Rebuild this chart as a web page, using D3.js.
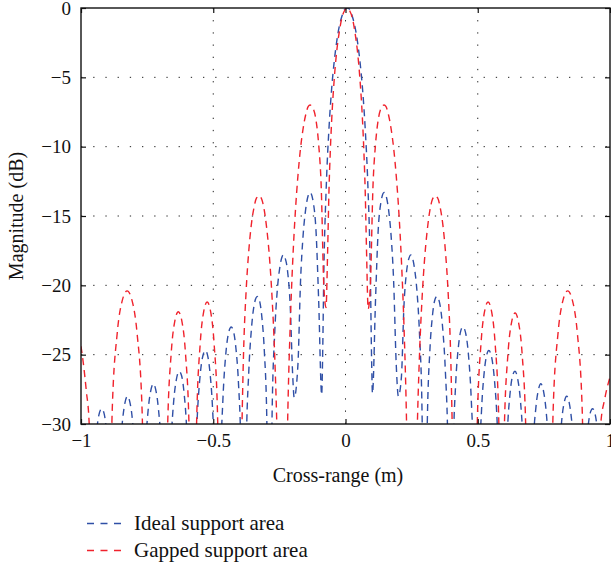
<!DOCTYPE html>
<html>
<head>
<meta charset="utf-8">
<script src="https://cdn.jsdelivr.net/npm/d3@7"></script>
<style>
  html, body { margin: 0; padding: 0; background: #fff; }
  svg { display: block; }
  text { font-family: "Liberation Serif", "Times New Roman", serif; fill: #111; }
</style>
</head>
<body>
<svg id="chart" width="611" height="566"></svg>
<script>
// ---------- data (cross-range in m, magnitude in dB) ----------
const idealX = [
  -1.0, -0.972, -0.9524, -0.9427, -0.9329, -0.9221, -0.9133, -0.9035, -0.8938, -0.8742,
  -0.8546, -0.8449, -0.8351, -0.8243, -0.8155, -0.8057, -0.7960, -0.7764,
  -0.7568, -0.7471, -0.7373, -0.7265, -0.7177, -0.7079, -0.6982, -0.6786,
  -0.6688, -0.6590, -0.6493, -0.6395, -0.6287, -0.6199, -0.6101, -0.6004, -0.5906, -0.5808,
  -0.5710, -0.5612, -0.5515, -0.5417, -0.5299, -0.5221, -0.5123, -0.5026, -0.4928, -0.4830,
  -0.4732, -0.4634, -0.4537, -0.4439, -0.4321, -0.4243, -0.4145, -0.4048, -0.3950, -0.3852,
  -0.3754, -0.3656, -0.3559, -0.3461, -0.3334, -0.3265, -0.3167, -0.3070, -0.2972, -0.2874,
  -0.2776, -0.2678, -0.2581, -0.2483, -0.2346, -0.2287, -0.2189, -0.2092, -0.1994, -0.1940,
  -0.1798, -0.1700, -0.1603, -0.1505, -0.1407, -0.1339, -0.1211, -0.1114, -0.1016, -0.0900,
  -0.0869, -0.0820, -0.0722, -0.0625, -0.0527, -0.0429, -0.0331, -0.0233, -0.0136, -0.0038,
  0.0060, 0.0158, 0.0256, 0.0353, 0.0451, 0.0549, 0.0647, 0.0745, 0.0842, 0.0940, 0.0989, 0.1020,
  0.1136, 0.1234, 0.1331, 0.1459, 0.1527, 0.1625, 0.1723, 0.1820, 0.1918, 0.2000,
  0.2114, 0.2212, 0.2309, 0.2407, 0.2466, 0.2603, 0.2701, 0.2798, 0.2896, 0.2994,
  0.3092, 0.3190, 0.3287, 0.3385, 0.3454, 0.3581, 0.3679, 0.3776, 0.3874, 0.3972,
  0.4070, 0.4168, 0.4265, 0.4363, 0.4441, 0.4559, 0.4657, 0.4754, 0.4852, 0.4950,
  0.5048, 0.5146, 0.5243, 0.5341, 0.5419, 0.5537, 0.5635, 0.5732, 0.5830, 0.5928,
  0.6026, 0.6124, 0.6221, 0.6319, 0.6407, 0.6515, 0.6613, 0.6710, 0.6808, 0.6906,
  0.7102, 0.7199, 0.7297, 0.7385, 0.7493, 0.7591, 0.7688, 0.7884,
  0.8080, 0.8177, 0.8275, 0.8363, 0.8471, 0.8569, 0.8666, 0.8862,
  0.9058, 0.9155, 0.9253, 0.9341, 0.9449, 0.9547, 0.9644, 0.9840, 1.0
];
const idealDb = [
  -32.5, -50, -33.5, -30.9, -29.4, -28.9, -29.2, -30.5, -33.0, -50,
  -32.5, -30.1, -28.6, -28.0, -28.4, -29.7, -32.5, -50,
  -32.1, -29.2, -27.7, -27.1, -27.5, -28.8, -31.4, -50,
  -36.9, -31.2, -28.3, -26.8, -26.2, -26.5, -27.8, -30.4, -35.9, -50,
  -35.6, -29.8, -26.9, -25.3, -24.7, -25.0, -26.3, -28.9, -34.3, -50,
  -34.0, -28.2, -25.2, -23.6, -23.0, -23.25, -24.5, -27.0, -32.4, -50,
  -32.0, -26.2, -23.2, -21.5, -20.8, -21.0, -22.2, -24.7, -30.0, -50,
  -29.4, -23.5, -20.4, -18.7, -17.8, -18.0, -19.0, -21.4, -26.6, -28.1,
  -25.7, -19.7, -16.4, -14.5, -13.5, -13.3, -14.1, -16.1, -21.0, -27.9,
  -25.6, -19.2, -12.6, -8.7, -5.9, -3.9, -2.4, -1.3, -0.6, -0.1,
  0.0, -0.1, -0.6, -1.3, -2.4, -3.9, -5.9, -8.7, -12.6, -19.2, -25.6, -27.8,
  -21.0, -16.1, -14.1, -13.3, -13.5, -14.5, -16.4, -19.7, -25.7, -28.0,
  -26.6, -21.4, -19.0, -18.0, -17.8, -18.7, -20.4, -23.5, -29.4, -50,
  -30.0, -24.7, -22.2, -21.0, -20.8, -21.5, -23.2, -26.2, -32.0, -50,
  -32.4, -27.0, -24.5, -23.25, -23.0, -23.6, -25.2, -28.2, -34.0, -50,
  -34.3, -28.9, -26.3, -25.0, -24.7, -25.3, -26.9, -29.8, -35.6, -50,
  -35.9, -30.4, -27.8, -26.5, -26.2, -26.8, -28.3, -31.2, -36.9, -50,
  -31.4, -28.8, -27.5, -27.1, -27.7, -29.2, -32.1, -50,
  -32.5, -29.7, -28.4, -28.0, -28.6, -30.1, -32.5, -50,
  -33.0, -30.5, -29.2, -28.9, -29.4, -30.9, -33.5, -50, -36.4
];

const gappedX = [
  -1.0, -0.99, -0.98, -0.969, -0.962, -0.955, -0.93,
  -0.900, -0.8821, -0.8628, -0.8441, -0.8255, -0.8069, -0.7883, -0.7689, -0.751, -0.72,
  -0.686, -0.673, -0.659, -0.6455, -0.632, -0.6185, -0.605, -0.591, -0.577,
  -0.5629, -0.5493, -0.5361, -0.523, -0.5099, -0.4968, -0.4831, -0.4705, -0.44,
  -0.4048, -0.3950, -0.3852, -0.3754, -0.3656, -0.3559, -0.3461, -0.3363, -0.3265, -0.3167,
  -0.3070, -0.2972, -0.2874, -0.2776, -0.2678, -0.2581, -0.2483, -0.2385,
  -0.2287, -0.2189, -0.2092, -0.1994, -0.1896, -0.1798, -0.1700, -0.1603, -0.1505, -0.1407,
  -0.1339, -0.1211, -0.1114, -0.1016, -0.0918, -0.0820, -0.0737,
  -0.0674, -0.0625, -0.0576, -0.0527, -0.0429, -0.0331, -0.0233, -0.0136, -0.0038,
  0.0060, 0.0158, 0.0256, 0.0353, 0.0451, 0.0549, 0.0647, 0.0696, 0.0745, 0.0794, 0.0857,
  0.0940, 0.1038, 0.1136, 0.1234, 0.1331, 0.1459, 0.1527, 0.1625, 0.1723, 0.1820, 0.1918,
  0.2016, 0.2114, 0.2212, 0.2309, 0.2407, 0.2505,
  0.2603, 0.2701, 0.2798, 0.2896, 0.2994, 0.3092, 0.3190, 0.3287, 0.3385, 0.3483,
  0.3581, 0.3679, 0.3776, 0.3874, 0.3972, 0.4070, 0.4168, 0.45,
  0.4855, 0.4983, 0.5123, 0.5256, 0.539, 0.5524, 0.5657, 0.5797, 0.587,
  0.600, 0.614, 0.6275, 0.641, 0.6545, 0.668, 0.682, 0.695, 0.73,
  0.7675, 0.7849, 0.8038, 0.8219, 0.840, 0.8581, 0.8763, 0.8951, 0.9125, 0.935,
  0.955, 0.965, 0.98, 1.0
];
const gappedDb = [
  -24.4, -25.8, -27.6, -30.0, -36.0, -50, -40,
  -50, -29.1, -23.4, -21.1, -20.4, -21.1, -23.4, -29.1, -50, -40,
  -50, -30.6, -24.9, -22.6, -21.9, -22.6, -24.9, -30.6, -50,
  -29.9, -24.2, -21.9, -21.2, -21.9, -24.2, -29.9, -50, -40,
  -40, -33.2, -24.7, -20.3, -17.5, -15.6, -14.4, -13.7, -13.55, -13.8,
  -14.6, -16.0, -18.0, -20.9, -25.0, -31.4, -42.8, -55,
  -43, -30.0, -23.0, -18.2, -14.7, -12.1, -10.1, -8.7, -7.7, -7.1,
  -7.0, -7.3, -8.1, -9.8, -12.9, -20.0, -21.6,
  -17.4, -13.2, -10.4, -8.25, -5.2, -3.1, -1.7, -0.7, -0.2,
  0.0, -0.2, -0.7, -1.7, -3.1, -5.2, -8.25, -10.4, -13.2, -17.4, -21.7,
  -20.0, -12.9, -9.8, -8.1, -7.3, -7.0, -7.1, -7.7, -8.7, -10.1, -12.1,
  -14.7, -18.2, -23.0, -30.0, -43, -55,
  -42.8, -31.4, -25.0, -20.9, -18.0, -16.0, -14.6, -13.8, -13.55, -13.7,
  -14.4, -15.6, -17.5, -20.3, -24.7, -33.2, -40, -40,
  -50, -29.9, -24.2, -21.9, -21.2, -21.9, -24.2, -29.9, -50,
  -30.7, -25.0, -22.7, -22.0, -22.7, -25.0, -30.7, -50, -40,
  -50, -29.1, -23.4, -21.1, -20.4, -21.1, -23.4, -29.1, -50, -42,
  -40, -30.0, -28.2, -26.6
];

const xTicks = [-1, -0.5, 0, 0.5, 1];
const yTicks = [0, -5, -10, -15, -20, -25, -30];
const seriesNames = ["Ideal support area", "Gapped support area"];
const seriesColors = ["#2f4fa6", "#f0222c"];

// ---------- layout ----------
const svg = d3.select("#chart");
const L = 81, R = 610, T = 8, B = 424;
const x = d3.scaleLinear().domain([-1, 1]).range([L, R]);
const y = d3.scaleLinear().domain([-30, 0]).range([B, T]);
const fmt = d => (d < 0 ? "\u2212" + String(Math.abs(d)) : String(d));

svg.append("rect").attr("width", 611).attr("height", 566).attr("fill", "#fff");

svg.append("clipPath").attr("id", "plotclip")
  .append("rect").attr("x", L).attr("y", T).attr("width", R - L).attr("height", B - T);

// grid (dotted)
const grid = svg.append("g");
grid.selectAll("line.gx").data(xTicks.slice(1, -1)).join("line")
  .attr("x1", d => x(d)).attr("x2", d => x(d)).attr("y1", B).attr("y2", T)
  .attr("stroke", "#222").attr("stroke-width", 1).attr("stroke-dasharray", "1.3 10.9");
grid.selectAll("line.gy").data(yTicks.slice(1, -1)).join("line")
  .attr("y1", d => y(d)).attr("y2", d => y(d)).attr("x1", L).attr("x2", R)
  .attr("stroke", "#222").attr("stroke-width", 1).attr("stroke-dasharray", "1.3 10.9");

// series
const plot = svg.append("g").attr("clip-path", "url(#plotclip)");
const line = d3.line().x(d => x(d[0])).y(d => y(d[1])).curve(d3.curveMonotoneX);
const series = [d3.zip(idealX, idealDb), d3.zip(gappedX, gappedDb)];
series.forEach((s, i) => {
  plot.append("path").datum(s)
    .attr("d", line)
    .attr("fill", "none")
    .attr("stroke", seriesColors[i])
    .attr("stroke-width", 1.4)
    .attr("stroke-dasharray", "7 5");
});

// axes
const axisStyle = g => {
  g.select(".domain").remove();
  g.selectAll(".tick line").attr("stroke", "#111").attr("stroke-width", 1.2);
  g.selectAll(".tick text").attr("font-size", 19).attr("font-family", "Liberation Serif, serif").attr("fill", "#111");
};
svg.append("g").attr("transform", `translate(0,${B})`)
  .call(d3.axisBottom(x).tickValues(xTicks).tickFormat(fmt).tickSize(-5).tickPadding(9.5))
  .call(axisStyle);
svg.append("g").attr("transform", `translate(${L},0)`)
  .call(d3.axisLeft(y).tickValues(yTicks).tickFormat(fmt).tickSize(-5).tickPadding(10))
  .call(axisStyle);
svg.append("g").attr("transform", `translate(0,${T})`)
  .call(d3.axisTop(x).tickValues(xTicks).tickFormat("").tickSize(-5))
  .call(axisStyle);
svg.append("g").attr("transform", `translate(${R},0)`)
  .call(d3.axisRight(y).tickValues(yTicks).tickFormat("").tickSize(-5))
  .call(axisStyle);

// frame
svg.append("rect").attr("x", L).attr("y", T).attr("width", R - L).attr("height", B - T)
  .attr("fill", "none").attr("stroke", "#111").attr("stroke-width", 1.4);

// axis labels
svg.append("text").attr("x", 338).attr("y", 482).attr("text-anchor", "middle")
  .attr("font-size", 20).text("Cross-range (m)");
svg.append("text").attr("transform", "translate(23,216) rotate(-90)")
  .attr("text-anchor", "middle").attr("font-size", 20).text("Magnitude (dB)");

// legend
const legY = [523.5, 550.5];
const leg = svg.append("g");
seriesNames.forEach((name, i) => {
  leg.append("line").attr("x1", 87).attr("x2", 121).attr("y1", legY[i]).attr("y2", legY[i])
    .attr("stroke", seriesColors[i]).attr("stroke-width", 1.4).attr("stroke-dasharray", "7 6.5");
  leg.append("text").attr("x", 134).attr("y", legY[i] + 6.5).attr("font-size", 21).text(name);
});
</script>
</body>
</html>
